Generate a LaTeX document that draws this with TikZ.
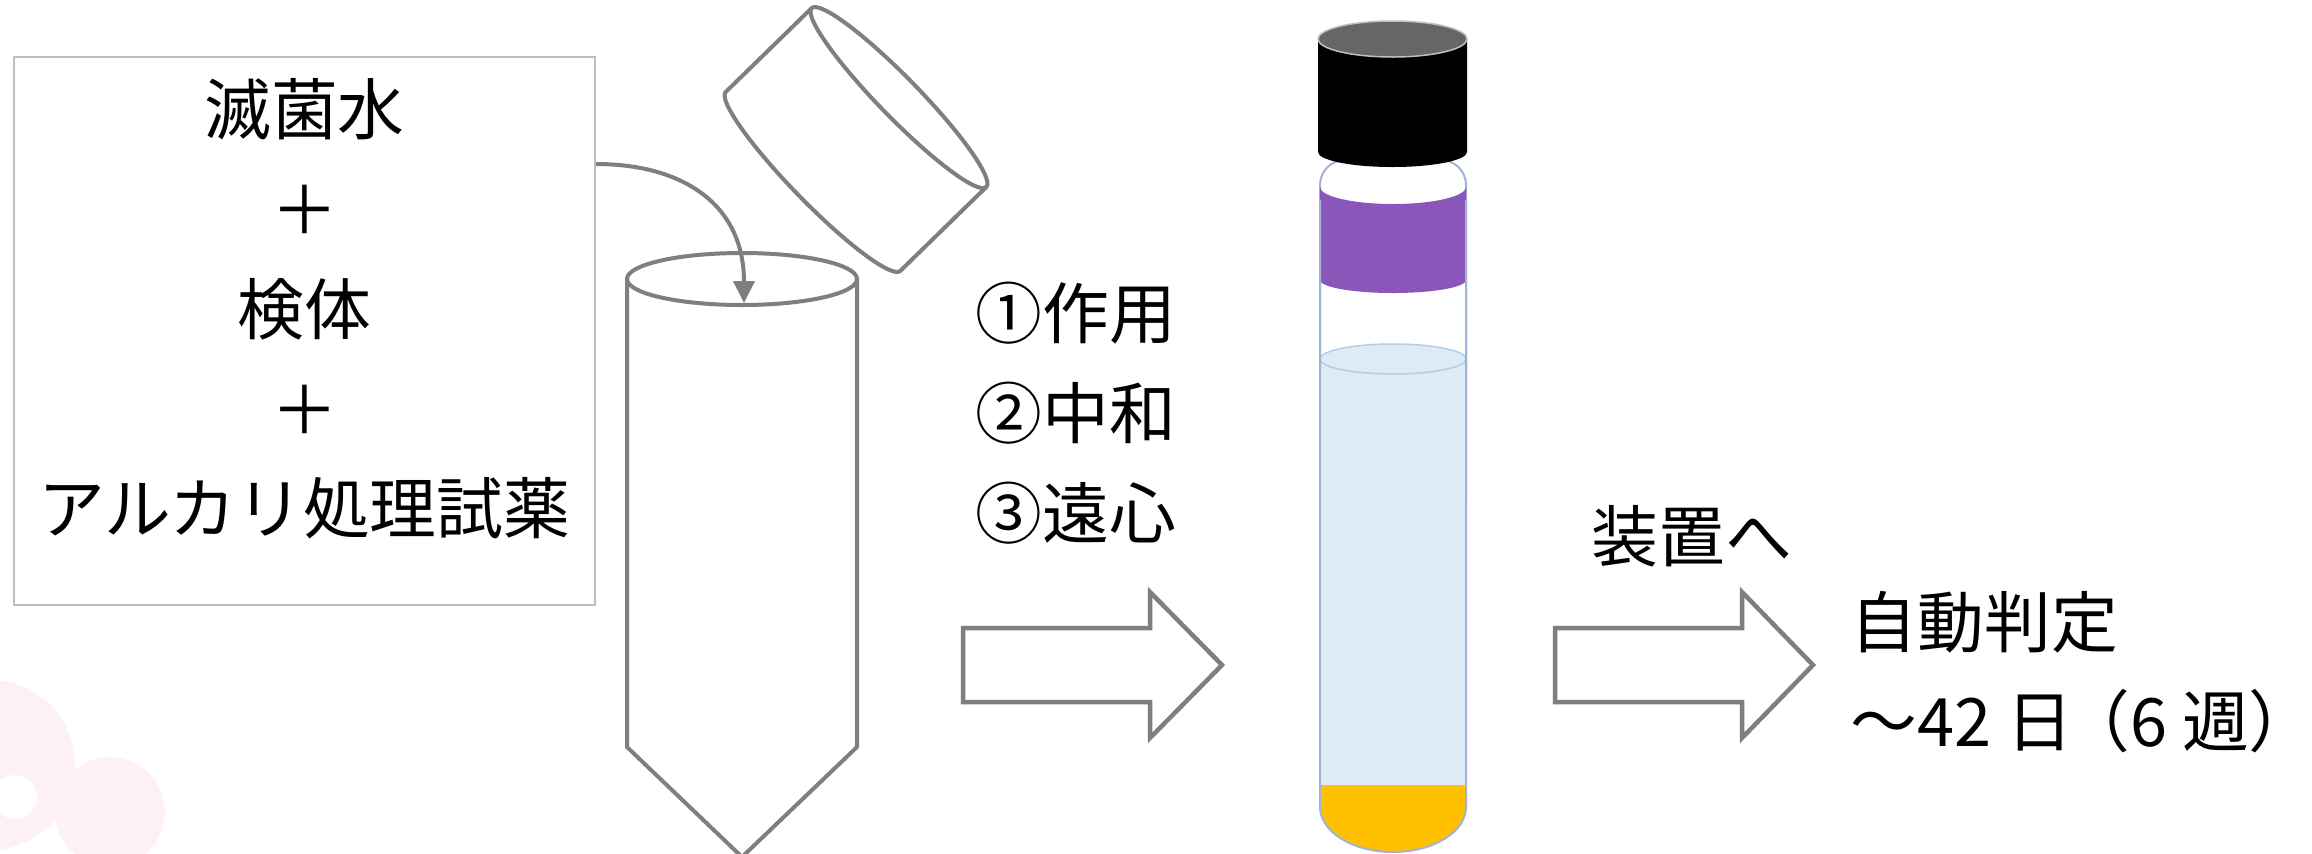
\documentclass[tikz,border=0pt]{standalone}
\usepackage{fontspec}
\setmainfont{Noto Sans CJK JP}
\usepackage{tikz}
\usetikzlibrary{arrows.meta,calc}

\definecolor{linegrey}{HTML}{7F7F7F}
\definecolor{boxgrey}{HTML}{BFBFBF}
\definecolor{band}{HTML}{8B56B9}
\definecolor{broth}{HTML}{DEEBF7}
\definecolor{brothrim}{HTML}{B4CDE8}
\definecolor{pellet}{HTML}{FFC000}
\definecolor{glass}{HTML}{9FB4D6}
\definecolor{capgrey}{HTML}{666666}
\definecolor{blush}{HTML}{FEF1F4}

\tikzset{
  jptext/.style={font=\fontsize{19pt}{28.4pt}\selectfont, inner sep=0pt},
  tubeline/.style={draw=linegrey, line width=0.4mm, line join=round},
  blockarrow/.style={draw=linegrey, line width=0.45mm, fill=white, line join=miter},
}

\begin{document}
\begin{tikzpicture}[x=0.1mm, y=-0.1mm]
    \useasboundingbox (0,0) rectangle (2312,853);
    \fill[white] (0,0) rectangle (2312,853);

    % faint blot in the corner
    \fill[blush] (-10,765) circle[radius=85];
    \fill[blush] (110,812) circle[radius=55];
    \fill[white] (15,797) circle[radius=22];

    % mixture
    \node[draw=boxgrey, line width=0.2mm, minimum width=58.1mm, minimum height=54.8mm, inner sep=0pt] (mix) at (304.5,331) {};
    \node[jptext, align=center] (mixtext) at (304.5,309) {滅菌水\\＋\\検体\\＋\\アルカリ処理試薬};

    % conical tube
    \draw[tubeline] (627,279) -- (627,747) -- (742,857) -- (857,747) -- (857,279);
    \draw[tubeline] (742,279) ellipse[x radius=115, y radius=26];
    \coordinate (rim) at (744,303);

    % tilted cap
    \begin{scope}[shift={(856,139.5)}, rotate=44.3]
        \fill[white] (60,-125) -- (-60,-125) arc[start angle=270, end angle=90, x radius=20, y radius=125] -- (60,125) -- cycle;
        \draw[tubeline] (60,-125) -- (-60,-125) arc[start angle=270, end angle=90, x radius=20, y radius=125] -- (60,125);
        \draw[tubeline, fill=white] (60,0) ellipse[x radius=20, y radius=125];
    \end{scope}

    % pour into the tube
    \draw[tubeline, -{Triangle[length=2.2mm, width=2.1mm]}] ($(mix.north east)+(0,108)$) .. controls +(85,0) and +(0,-100) .. (rim);

    % steps
    \node[jptext, anchor=west, align=left] (steps) at (975,413) {①作用\\②中和\\③遠心};
    \draw[blockarrow] (963,628) -- (1150,628) -- (1150,592) -- (1222,665) -- (1150,738) -- (1150,702) -- (963,702) -- cycle;

    % culture tube
    \draw[glass, line width=0.2mm, fill=white, rounded corners=2.5mm] (1320,500) -- (1320,160) -- (1466,160) -- (1466,500);
    \fill[band] (1320,187) arc[start angle=180, end angle=0, x radius=73, y radius=17] -- (1466,280) arc[start angle=0, end angle=180, x radius=73, y radius=13] -- cycle;
    \fill[broth] (1320,359) rectangle (1466,785);
    \draw[brothrim, line width=0.15mm, fill=broth] (1393,359) ellipse[x radius=73, y radius=15];
    \fill[pellet] (1320,785) -- (1320,807) arc[start angle=180, end angle=0, x radius=73, y radius=45] -- (1466,785) -- cycle;
    \draw[glass, line width=0.2mm] (1320,200) -- (1320,807) arc[start angle=180, end angle=0, x radius=73, y radius=45] -- (1466,200);
    \fill[black] (1318,39) -- (1318,152) arc[start angle=180, end angle=0, x radius=74.5, y radius=15] -- (1467,39) -- cycle;
    \draw[boxgrey, line width=0.15mm, fill=capgrey] (1392.5,39) ellipse[x radius=74.5, y radius=18];

    % to the instrument
    \node[jptext] (device) at (1692,536) {装置へ};
    \draw[blockarrow] (1555,628) -- (1742,628) -- (1742,592) -- (1813,665) -- (1742,738) -- (1742,702) -- (1555,702) -- cycle;
    \node[jptext, anchor=west, align=left] (result) at (1850,672) {自動判定\\～42 日\kern-0.15em（6 週\makebox[0.45em][l]{）}};
\end{tikzpicture}
\end{document}
